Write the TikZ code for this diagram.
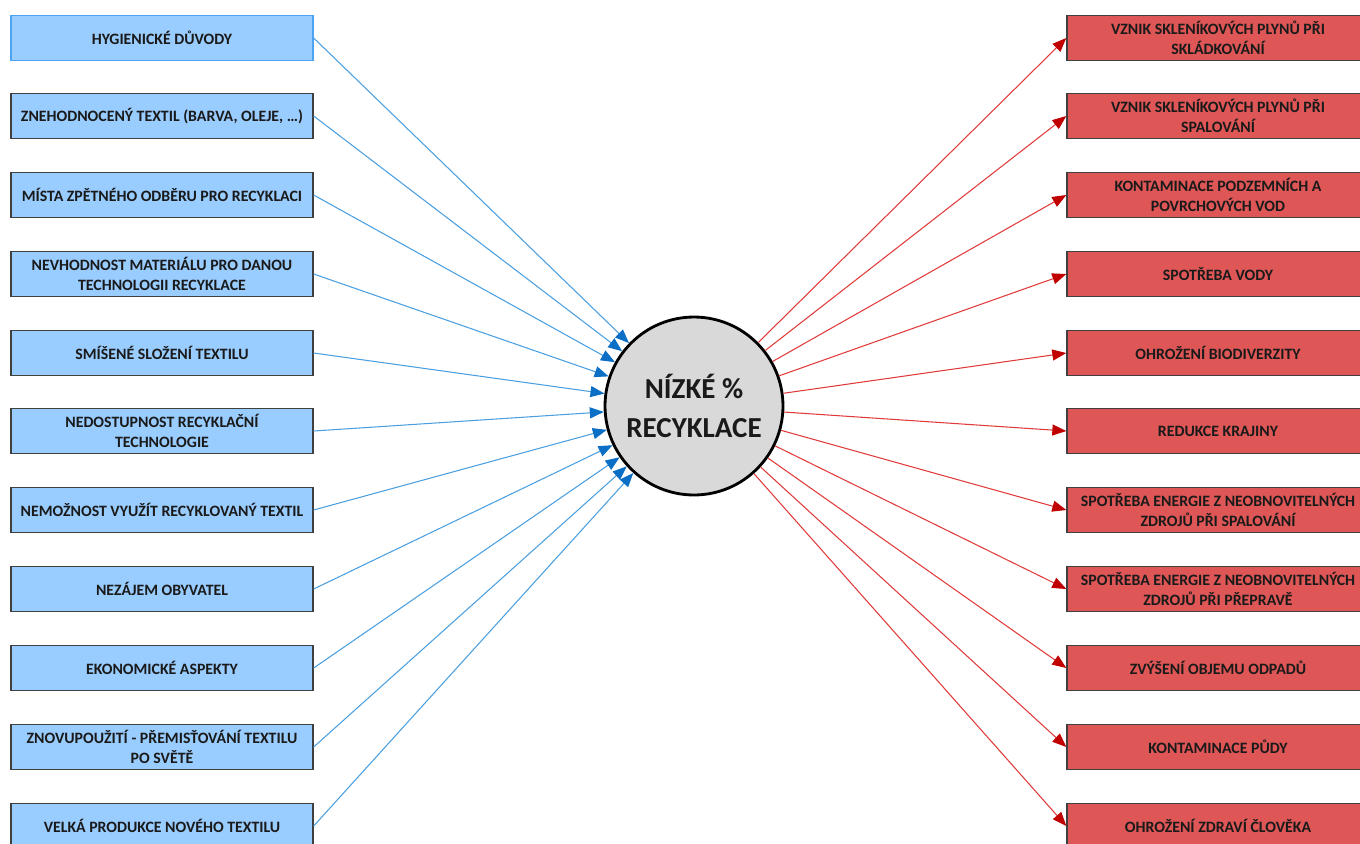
\documentclass[tikz,border=0pt]{standalone}
\usepackage{fontspec}
\setmainfont{Carlito}
\usetikzlibrary{arrows.meta}

\definecolor{boxblue}{HTML}{99CCFF}
\definecolor{boxred}{HTML}{DE5656}
\definecolor{boxedge}{HTML}{404040}
\definecolor{firstedge}{HTML}{4DA3F0}
\definecolor{lineblue}{HTML}{4A9FE0}
\definecolor{tipblue}{HTML}{0B6FC6}
\definecolor{linered}{HTML}{E03A3A}
\definecolor{tipred}{HTML}{C00000}
\definecolor{circlegray}{HTML}{D9D9D9}
\definecolor{textdark}{HTML}{1A1A1A}

\begin{document}
\begin{tikzpicture}[x=0.02cm, y=-0.02cm,
	cause/.style={draw=boxedge, fill=boxblue, line width=0.8pt, minimum width=6.04cm, minimum height=0.9cm,
		inner sep=0pt, align=center, text=textdark, font=\bfseries\fontsize{9}{11.4}\selectfont},
	effect/.style={cause, fill=boxred},
	problem/.style={circle, draw=black, line width=1.6pt, fill=circlegray, minimum size=3.56cm,
		inner sep=0pt, align=center, text=textdark, font=\bfseries\fontsize{16.5}{22}\selectfont},
	inarrow/.style={draw=lineblue, line width=0.6pt, -{Triangle[length=0.28cm, width=0.22cm, color=tipblue]}},
	outarrow/.style={draw=linered, line width=0.6pt, -{Triangle[length=0.28cm, width=0.22cm, color=tipred]}}]
	%\draw[help lines, step=100] (0,0) grid (1360,843);
	\useasboundingbox (0,0) rectangle (1360,843);

	\node [problem] (recyk) at (694,406) {NÍZKÉ \%\\RECYKLACE};		% Mitte

	% Ursachen (links)
	\node [cause, draw=firstedge] (c1) at (162,38) {HYGIENICKÉ DŮVODY};
	\node [cause] (c2) at (162,116) {ZNEHODNOCENÝ TEXTIL (BARVA, OLEJE, …)};
	\node [cause] (c3) at (162,195) {MÍSTA ZPĚTNÉHO ODBĚRU PRO RECYKLACI};
	\node [cause] (c4) at (162,274) {NEVHODNOST MATERIÁLU PRO DANOU\\TECHNOLOGII RECYKLACE};
	\node [cause] (c5) at (162,353) {SMÍŠENÉ SLOŽENÍ TEXTILU};
	\node [cause] (c6) at (162,431) {NEDOSTUPNOST RECYKLAČNÍ\\TECHNOLOGIE};
	\node [cause] (c7) at (162,510) {NEMOŽNOST VYUŽÍT RECYKLOVANÝ TEXTIL};
	\node [cause] (c8) at (162,589) {NEZÁJEM OBYVATEL};
	\node [cause] (c9) at (162,668) {EKONOMICKÉ ASPEKTY};
	\node [cause] (c10) at (162,747) {ZNOVUPOUŽITÍ - PŘEMISŤOVÁNÍ TEXTILU\\PO SVĚTĚ};
	\node [cause] (c11) at (162,826) {VELKÁ PRODUKCE NOVÉHO TEXTILU};

	% Folgen (rechts)
	\node [effect] (e1) at (1218,38) {VZNIK SKLENÍKOVÝCH PLYNŮ PŘI\\SKLÁDKOVÁNÍ};
	\node [effect] (e2) at (1218,116) {VZNIK SKLENÍKOVÝCH PLYNŮ PŘI\\SPALOVÁNÍ};
	\node [effect] (e3) at (1218,195) {KONTAMINACE PODZEMNÍCH A\\POVRCHOVÝCH VOD};
	\node [effect] (e4) at (1218,274) {SPOTŘEBA VODY};
	\node [effect] (e5) at (1218,353) {OHROŽENÍ BIODIVERZITY};
	\node [effect] (e6) at (1218,431) {REDUKCE KRAJINY};
	\node [effect] (e7) at (1218,510) {SPOTŘEBA ENERGIE Z NEOBNOVITELNÝCH\\ZDROJŮ PŘI SPALOVÁNÍ};
	\node [effect] (e8) at (1218,589) {SPOTŘEBA ENERGIE Z NEOBNOVITELNÝCH\\ZDROJŮ PŘI PŘEPRAVĚ};
	\node [effect] (e9) at (1218,668) {ZVÝŠENÍ OBJEMU ODPADŮ};
	\node [effect] (e10) at (1218,747) {KONTAMINACE PŮDY};
	\node [effect] (e11) at (1218,826) {OHROŽENÍ ZDRAVÍ ČLOVĚKA};

	% Pfeile
	\draw [inarrow] (c1.east) -- (recyk);
	\draw [inarrow] (c2.east) -- (recyk);
	\draw [inarrow] (c3.east) -- (recyk);
	\draw [inarrow] (c4.east) -- (recyk);
	\draw [inarrow] (c5.east) -- (recyk);
	\draw [inarrow] (c6.east) -- (recyk);
	\draw [inarrow] (c7.east) -- (recyk);
	\draw [inarrow] (c8.east) -- (recyk);
	\draw [inarrow] (c9.east) -- (recyk);
	\draw [inarrow] (c10.east) -- (recyk);
	\draw [inarrow] (c11.east) -- (recyk);

	\draw [outarrow] (recyk) -- (e1.west);
	\draw [outarrow] (recyk) -- (e2.west);
	\draw [outarrow] (recyk) -- (e3.west);
	\draw [outarrow] (recyk) -- (e4.west);
	\draw [outarrow] (recyk) -- (e5.west);
	\draw [outarrow] (recyk) -- (e6.west);
	\draw [outarrow] (recyk) -- (e7.west);
	\draw [outarrow] (recyk) -- (e8.west);
	\draw [outarrow] (recyk) -- (e9.west);
	\draw [outarrow] (recyk) -- (e10.west);
	\draw [outarrow] (recyk) -- (e11.west);

\end{tikzpicture}
\end{document}
